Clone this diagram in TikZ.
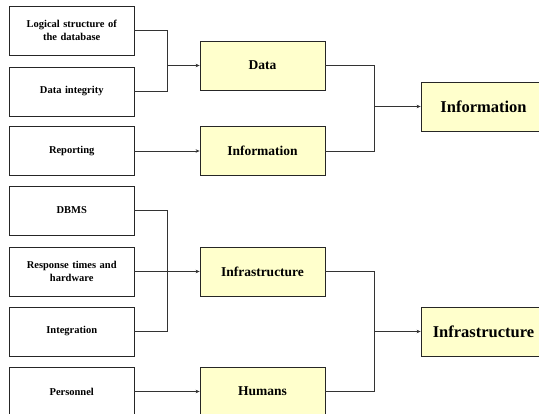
\documentclass[tikz,border=0pt]{standalone}
\usepackage{fontspec}
\setmainfont{Liberation Serif}
\usetikzlibrary{arrows.meta,positioning}

\definecolor{boxyellow}{HTML}{FFFFCC}

\begin{document}
\begin{tikzpicture}[
    x=1pt, y=-1pt,
    line width=0.8pt, draw=black!80,
    srcbox/.style={draw=black!85, fill=white, minimum width=124.5pt, minimum height=49pt,
        inner sep=1pt, text width=120pt, align=center, font=\fontsize{10.5}{12.5}\selectfont\bfseries},
    midbox/.style={draw=black!85, fill=boxyellow, minimum width=125pt, minimum height=49pt,
        inner sep=1pt, font=\fontsize{13.5}{15}\selectfont\bfseries},
    outbox/.style={midbox, font=\fontsize{16.5}{18}\selectfont\bfseries},
    feed/.style={draw=black!80, -{Stealth[length=4pt,width=3.5pt]}}
]
    \clip (0,0) rectangle (539,414);
    \fill[white] (0,0) rectangle (539,414);

    % Source boxes
    \node[srcbox] (logic) at (71.75, 30.5) {Logical structure of\\the database};
    \node[srcbox] (integ) at (71.75, 91.5) {Data integrity};
    \node[srcbox] (report) at (71.75, 151) {Reporting};
    \node[srcbox] (dbms) at (71.75, 210.5) {DBMS};
    \node[srcbox] (resp) at (71.75, 271.5) {Response times and\\hardware};
    \node[srcbox] (integr) at (71.75, 331.5) {Integration};
    \node[srcbox] (staff) at (71.75, 391.5) {Personnel};

    % Middle boxes
    \node[midbox] (data) at (262.5, 65.5) {Data};
    \node[midbox] (info) at (262.5, 151) {Information};
    \node[midbox] (infra) at (262.5, 271.5) {Infrastructure};
    \node[midbox] (humans) at (262.5, 391.5) {Humans};

    % Result boxes
    \node[outbox] (infoout) at (483.5, 106.5) {Information};
    \node[outbox] (infraout) at (483.5, 331.5) {Infrastructure};

    % Junctions
    \coordinate (jdata) at (167, 65.5);
    \coordinate (jinfra) at (167, 271.5);
    \coordinate (jinfo) at (374, 106.5);
    \coordinate (jout) at (374, 331.5);

    % Connectors
    \draw (logic.east) -| (jdata);
    \draw (integ.east) -| (jdata);
    \draw[feed] (jdata) -- (data.west);
    \draw[feed] (report.east) -- (info.west);

    \draw (dbms.east) -| (jinfra);
    \draw (integr.east) -| (jinfra);
    \draw[feed] (resp.east) -- (infra.west);
    \draw[feed] (staff.east) -- (humans.west);

    \draw (data.east) -| (jinfo);
    \draw (info.east) -| (jinfo);
    \draw[feed] (jinfo) -- (infoout.west);

    \draw (infra.east) -| (jout);
    \draw (humans.east) -| (jout);
    \draw[feed] (jout) -- (infraout.west);
\end{tikzpicture}
\end{document}
